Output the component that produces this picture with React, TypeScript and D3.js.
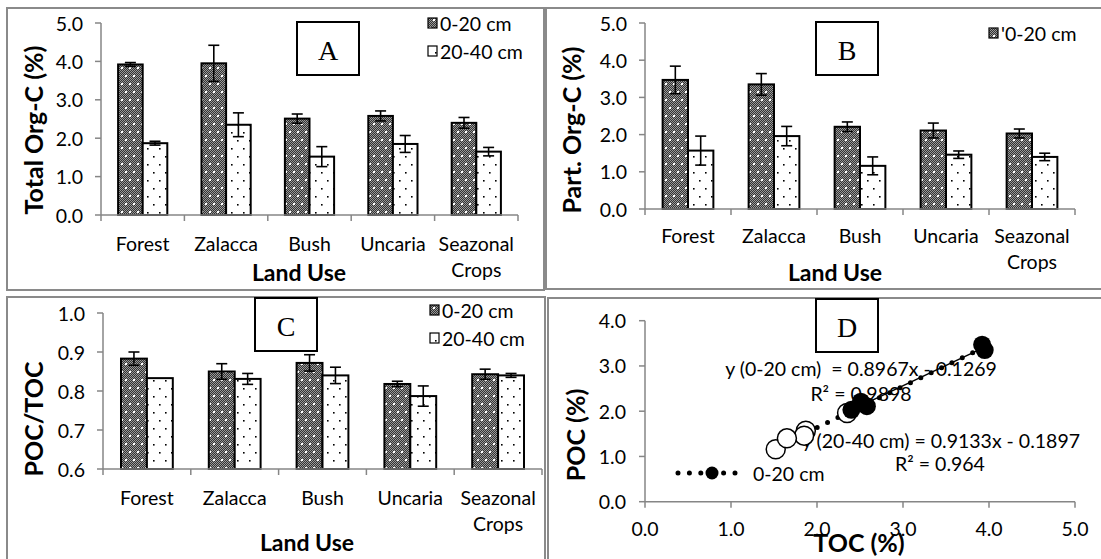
import React from "react";
import * as d3 from "d3";

// land use categories
const categories = ["Forest", "Zalacca", "Bush", "Uncaria", "Seazonal Crops"];

// A: total organic C (%)
const toc020 = [3.92, 3.95, 2.51, 2.58, 2.4];
const toc020Err = [0.05, 0.47, 0.12, 0.13, 0.14];
const toc2040 = [1.87, 2.35, 1.52, 1.85, 1.65];
const toc2040Err = [0.05, 0.31, 0.26, 0.22, 0.11];

// B: particulate organic C (%)
const poc020 = [3.47, 3.35, 2.21, 2.11, 2.03];
const poc020Err = [0.37, 0.29, 0.13, 0.2, 0.12];
const poc2040 = [1.57, 1.96, 1.16, 1.46, 1.4];
const poc2040Err = [0.39, 0.26, 0.24, 0.1, 0.1];

// C: POC/TOC
const ratio020 = [0.883, 0.85, 0.872, 0.818, 0.843];
const ratio020Err = [0.017, 0.02, 0.021, 0.007, 0.013];
const ratio2040 = [0.833, 0.831, 0.84, 0.787, 0.84];
const ratio2040Err = [0, 0.014, 0.021, 0.026, 0.005];

// D: regressions
const trend020 = { slope: 0.8967, intercept: -0.1269 };
const trend2040 = { slope: 0.9133, intercept: -0.1897 };

const FONT = "Lato, Carlito, Calibri, sans-serif";
const AXIS = "#868686";
const FS = 19.5;

function BarPanel(props: any) {
  const { x0, x1, yTop, yBottom, domain, step, digits, v1, e1, v2, e2, catY } = props;
  const x = d3.scaleBand().domain(categories).range([x0, x1]);
  const y = d3.scaleLinear().domain(domain).range([yBottom, yTop]);
  const bw = x.bandwidth() * 0.295;
  const ticks = d3.range(domain[0], domain[1] + 1e-9, step);
  const err = (cx: number, v: number, e: number, k: string) =>
    e > 0 ? (
      <g key={k} stroke="#000" strokeWidth={1.6}>
        <line x1={cx} x2={cx} y1={y(v - e)} y2={y(v + e)} />
        <line x1={cx - 5.5} x2={cx + 5.5} y1={y(v - e)} y2={y(v - e)} />
        <line x1={cx - 5.5} x2={cx + 5.5} y1={y(v + e)} y2={y(v + e)} />
      </g>
    ) : null;
  return (
    <g>
      {categories.map((c, i) => {
        const cx = (x(c) as number) + x.bandwidth() / 2;
        return (
          <g key={c}>
            <rect x={cx - bw} y={y(v1[i])} width={bw} height={yBottom - y(v1[i])} fill="url(#pDark)" stroke="#000" strokeWidth={2} />
            <rect x={cx} y={y(v2[i])} width={bw} height={yBottom - y(v2[i])} fill="url(#pLight)" stroke="#000" strokeWidth={2} />
            {err(cx - bw / 2, v1[i], e1[i], "a")}
            {err(cx + bw / 2, v2[i], e2[i], "b")}
          </g>
        );
      })}
      <line x1={x0} x2={x0} y1={yTop} y2={yBottom} stroke={AXIS} strokeWidth={1.5} />
      <line x1={x0} x2={x1} y1={yBottom} y2={yBottom} stroke={AXIS} strokeWidth={1.5} />
      {ticks.map((t: number) => (
        <g key={t}>
          <line x1={x0 - 6} x2={x0} y1={y(t)} y2={y(t)} stroke={AXIS} strokeWidth={1.5} />
          <text x={x0 - 18} y={y(t)} textAnchor="end" dominantBaseline="central" fontSize={FS} fontFamily={FONT}>
            {t.toFixed(digits)}
          </text>
        </g>
      ))}
      {categories.map((c) => (
        <line key={c} x1={x(c)} x2={x(c)} y1={yBottom} y2={yBottom + 6} stroke={AXIS} strokeWidth={1.5} />
      ))}
      <line x1={x1} x2={x1} y1={yBottom} y2={yBottom + 6} stroke={AXIS} strokeWidth={1.5} />
      {categories.map((c) => {
        const cx = (x(c) as number) + x.bandwidth() / 2;
        return c.split(" ").map((w, j) => (
          <text key={c + j} x={cx} y={yBottom + catY + j * 26} textAnchor="middle" dominantBaseline="central" fontSize={FS} fontFamily={FONT}>
            {w}
          </text>
        ));
      })}
    </g>
  );
}

function Frame({ x, y, w, h }: any) {
  return <rect x={x} y={y} width={w} height={h} fill="none" stroke="#8a8a8a" strokeWidth={2} />;
}

function LabelBox({ x, y, label }: any) {
  return (
    <g>
      <rect x={x} y={y} width={62} height={53} fill="#fff" stroke="#000" strokeWidth={2} />
      <text x={x + 31} y={y + 28} textAnchor="middle" dominantBaseline="central" fontSize={28} fontFamily="'Liberation Serif', 'Times New Roman', serif">
        {label}
      </text>
    </g>
  );
}

function Legend({ x, y, items }: any) {
  return (
    <g>
      {items.map((it: any, i: number) => (
        <g key={i}>
          <rect x={x} y={y + i * 28 - 5} width={9} height={10} fill={i === 0 ? "url(#pDark)" : "url(#pLight)"} stroke="#000" strokeWidth={1.2} />
          <text x={x + 12} y={y + i * 28} dominantBaseline="central" fontSize={FS} fontFamily={FONT}>
            {it}
          </text>
        </g>
      ))}
    </g>
  );
}

function Scatter() {
  const x = d3.scaleLinear().domain([0, 5]).range([645, 1075]);
  const y = d3.scaleLinear().domain([0, 4]).range([501.7, 320.7]);
  const line = d3.line<number>().x((d) => x(d)).y((d) => y(trend2040.slope * d + trend2040.intercept));
  const line2 = d3.line<number>().x((d) => x(d)).y((d) => y(trend020.slope * d + trend020.intercept));
  const xMin = d3.min(toc2040) as number;
  const xMax = d3.max(toc020) as number;
  return (
    <g>
      <line x1={645} x2={645} y1={320.7} y2={501.7} stroke={AXIS} strokeWidth={1.5} />
      <line x1={645} x2={1075} y1={501.7} y2={501.7} stroke={AXIS} strokeWidth={1.5} />
      {y.ticks(4).map((t) => (
        <g key={t}>
          <line x1={639} x2={645} y1={y(t)} y2={y(t)} stroke={AXIS} strokeWidth={1.5} />
          <text x={626} y={y(t)} textAnchor="end" dominantBaseline="central" fontSize={FS} fontFamily={FONT}>
            {t.toFixed(1)}
          </text>
        </g>
      ))}
      {x.ticks(5).map((t) => (
        <g key={t}>
          <line x1={x(t)} x2={x(t)} y1={501.7} y2={507.7} stroke={AXIS} strokeWidth={1.5} />
          <text x={x(t)} y={528} textAnchor="middle" dominantBaseline="central" fontSize={FS} fontFamily={FONT}>
            {t.toFixed(1)}
          </text>
        </g>
      ))}
      <text x={861} y={368} textAnchor="middle" dominantBaseline="central" fontSize={FS} fontFamily={FONT} xmlSpace="preserve">
        {"y (0-20 cm)  = 0.8967x - 0.1269"}
      </text>
      <text x={861} y={393} textAnchor="middle" dominantBaseline="central" fontSize={FS} fontFamily={FONT}>
        R² = 0.9898
      </text>
      <text x={941} y={440} textAnchor="middle" dominantBaseline="central" fontSize={FS} fontFamily={FONT}>
        y (20-40 cm) = 0.9133x - 0.1897
      </text>
      <text x={940} y={463} textAnchor="middle" dominantBaseline="central" fontSize={FS} fontFamily={FONT}>
        R² = 0.964
      </text>
      <path d={line2([d3.min(toc020) as number, xMax]) as string} stroke="#000" strokeWidth={1.5} fill="none" />
      <path d={line([xMin, xMax]) as string} stroke="#000" strokeWidth={5} strokeLinecap="round" strokeDasharray="0 11.5" fill="none" />
      {toc2040.map((t, i) => (
        <circle key={"o" + i} cx={x(t)} cy={y(poc2040[i])} r={9.5} fill="#fff" stroke="#000" strokeWidth={1.5} />
      ))}
      {toc020.map((t, i) => (
        <circle key={"f" + i} cx={x(t)} cy={y(poc020[i])} r={9} fill="#000" />
      ))}
      <line x1={678} x2={736} y1={473} y2={473} stroke="#000" strokeWidth={5} strokeLinecap="round" strokeDasharray="0 11.4" />
      <circle cx={712} cy={473} r={6.5} fill="#000" />
      <text x={753} y={473} dominantBaseline="central" fontSize={FS} fontFamily={FONT}>
        0-20 cm
      </text>
    </g>
  );
}

function Title({ x, y, rotate, size, children }: any) {
  return (
    <text
      transform={`translate(${x},${y})${rotate ? " rotate(-90)" : ""}`}
      textAnchor="middle"
      dominantBaseline="central"
      fontSize={size || 23}
      fontWeight="bold"
      fontFamily={FONT}
    >
      {children}
    </text>
  );
}

export default function App() {
  return (
    <svg width={1101} height={559} style={{ position: "absolute", left: 0, top: 0, background: "#fff" }}>
      <defs>
        <pattern id="checker" width={2} height={2} patternUnits="userSpaceOnUse">
          <rect width={2} height={2} fill="#333" />
          <rect width={1} height={1} fill="#999" />
          <rect x={1} y={1} width={1} height={1} fill="#999" />
        </pattern>
        <pattern id="pDark" width={8} height={16} patternUnits="userSpaceOnUse">
          <rect width={8} height={16} fill="url(#checker)" />
          <rect x={1} y={3} width={2} height={2} fill="#fff" />
          <rect x={5} y={11} width={2} height={2} fill="#fff" />
        </pattern>
        <pattern id="pLight" width={12} height={16} patternUnits="userSpaceOnUse">
          <rect width={12} height={16} fill="#fff" />
          <rect x={3} y={4} width={1.6} height={1.6} fill="#000" />
          <rect x={9} y={12} width={1.6} height={1.6} fill="#000" />
        </pattern>
      </defs>
      <rect width={1101} height={559} fill="#fff" />

      <Frame x={7} y={8} w={537} h={282} />
      <Frame x={546} y={8} w={560} h={281} />
      <Frame x={7} y={297} w={538} h={270} />
      <Frame x={548} y={298} w={560} h={270} />

      <BarPanel x0={101} x1={518} yTop={23} yBottom={215} domain={[0, 5]} step={1} digits={1}
        v1={toc020} e1={toc020Err} v2={toc2040} e2={toc2040Err} catY={28} />
      <BarPanel x0={645} x1={1075} yTop={23} yBottom={209} domain={[0, 5]} step={1} digits={1}
        v1={poc020} e1={poc020Err} v2={poc2040} e2={poc2040Err} catY={26} />
      <BarPanel x0={103} x1={542} yTop={313} yBottom={469} domain={[0.6, 1.0]} step={0.1} digits={1}
        v1={ratio020} e1={ratio020Err} v2={ratio2040} e2={ratio2040Err} catY={28} />
      <Scatter />

      <LabelBox x={297} y={22} label="A" />
      <LabelBox x={816} y={22} label="B" />
      <LabelBox x={255} y={298} label="C" />
      <LabelBox x={816} y={299} label="D" />

      <Legend x={428} y={23} items={["0-20 cm", "20-40 cm"]} />
      <Legend x={989} y={33} items={["'0-20 cm"]} />
      <Legend x={430} y={310} items={["0-20 cm", "20-40 cm"]} />

      <Title x={33} y={130} rotate size={25}>Total Org-C (%)</Title>
      <Title x={571} y={130} rotate size={25}>Part. Org-C (%)</Title>
      <Title x={33} y={419} rotate size={25}>POC/TOC</Title>
      <Title x={575} y={435} rotate size={25}>POC (%)</Title>
      <Title x={299} y={272}>Land Use</Title>
      <Title x={835} y={272}>Land Use</Title>
      <Title x={307} y={542}>Land Use</Title>
      <Title x={859} y={542} size={25}>TOC (%)</Title>
    </svg>
  );
}
